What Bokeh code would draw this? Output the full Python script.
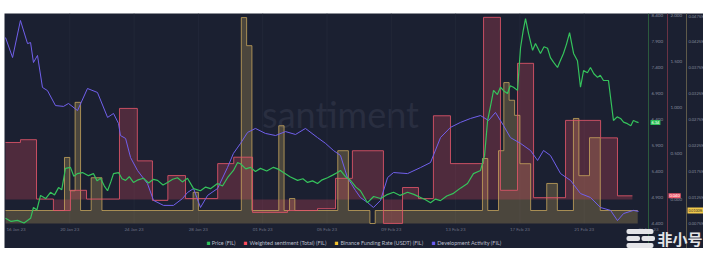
from bokeh.plotting import figure
from bokeh.models import (Range1d, LinearAxis, FixedTicker, Label, Legend, LegendItem,
                          NumeralTickFormatter)
from bokeh.embed import file_html
from bokeh.resources import INLINE

# ---------------- data (days from 16 Jan 2023) ----------------
tick_days = [4, 8, 12, 16, 20, 24, 28, 32, 36, 40]
tick_labels = ["20 Jan 23", "24 Jan 23", "28 Jan 23", "01 Feb 23", "05 Feb 23",
               "09 Feb 23", "13 Feb 23", "17 Feb 23", "21 Feb 23", "25 Feb 23"]
first_label = "16 Jan 23"

price_days = [0.00, 0.35, 0.75, 1.15, 1.56, 1.74, 1.95, 2.18, 2.50, 2.80, 3.05, 3.30, 3.50, 3.73,
              4.04, 4.25, 4.48, 4.79, 5.16, 5.47, 5.70, 5.91, 6.15, 6.35, 6.55, 6.72, 7.03, 7.25,
              7.47, 7.70, 7.96, 8.25, 8.58, 8.90, 9.20, 9.46, 9.80, 10.08, 10.40, 10.70, 11.00,
              11.32, 11.70, 12.13, 12.45, 12.75, 13.19, 13.50, 13.81, 14.18, 14.43, 14.62, 14.95,
              15.24, 15.55, 15.86, 16.25, 16.67, 17.00, 17.29, 17.70, 18.17, 18.50, 18.79, 19.10,
              19.41, 19.70, 20.03, 20.35, 20.65, 20.84, 21.15, 21.46, 21.80, 22.08, 22.52, 22.90,
              23.33, 23.70, 24.14, 24.55, 25.01, 25.40, 25.82, 26.10, 26.44, 26.75, 27.06, 27.45,
              27.87, 28.30, 28.74, 29.11, 29.55, 29.80, 29.99, 30.20, 30.36, 30.60, 30.79, 31.00,
              31.23, 31.40, 31.60, 31.85, 32.04, 32.20, 32.35, 32.54, 32.79, 32.97, 33.28, 33.50,
              33.72, 33.90, 34.10, 34.34, 34.50, 34.71, 34.90, 35.09, 35.34, 35.58, 35.77, 35.96,
              36.20, 36.39, 36.60, 36.83, 37.00, 37.20, 37.51, 37.65, 37.82, 38.05, 38.26, 38.45,
              38.69, 38.90, 39.06, 39.20, 39.38]
price_usd = [4.50, 4.44, 4.46, 4.41, 4.50, 4.71, 4.66, 4.94, 4.88, 5.00, 4.95, 5.09, 5.05, 5.46,
             5.48, 5.31, 5.36, 5.38, 5.32, 5.36, 5.22, 5.27, 5.12, 5.03, 5.20, 5.36, 5.38, 5.26,
             5.23, 5.30, 5.19, 5.24, 5.27, 5.18, 5.25, 5.23, 5.14, 5.19, 5.25, 5.28, 5.20,
             5.27, 5.07, 5.03, 5.10, 5.07, 5.17, 5.12, 5.28, 5.42, 5.57, 5.55, 5.45,
             5.48, 5.40, 5.46, 5.41, 5.48, 5.44, 5.38, 5.30, 5.23, 5.26, 5.19, 5.22,
             5.17, 5.24, 5.28, 5.33, 5.38, 5.42, 5.30, 5.23, 5.10, 5.03, 4.80, 4.92,
             4.88, 4.95, 5.00, 4.94, 5.00, 4.96, 4.90, 4.86, 4.80, 4.87, 4.84, 4.93,
             4.98, 5.08, 5.17, 5.36, 5.42, 5.70, 6.38, 6.70, 6.96, 6.88, 7.02, 6.95,
             6.90, 7.05, 7.02, 6.96, 7.78, 8.10, 8.34, 8.05, 7.73, 7.86, 7.67, 7.80,
             7.77, 7.59, 7.50, 7.40, 7.52, 7.67, 7.85, 8.07, 7.67, 7.53, 7.02, 7.34,
             7.30, 7.40, 7.28, 7.21, 7.25, 7.15, 7.15, 6.80, 6.38, 6.45, 6.42, 6.35,
             6.32, 6.28, 6.38, 6.36, 6.34]

dev_days = [0.00, 0.44, 0.93, 1.37, 1.56, 1.74, 1.99, 2.30, 2.61, 3.11, 3.61, 3.92, 4.48, 5.10,
            5.72, 6.35, 6.72, 7.03, 7.15, 7.47, 7.78, 8.21, 8.83, 9.21, 9.83, 10.45, 11.01, 11.32,
            11.70, 12.13, 12.57, 13.19, 13.81, 14.18, 14.62, 15.06, 15.55, 16.17, 16.80, 17.42,
            18.04, 18.66, 19.41, 19.91, 20.40, 20.84, 21.27, 21.77, 22.08, 22.52, 22.89, 23.33,
            23.77, 24.14, 25.01, 25.82, 26.44, 27.06, 27.68, 28.30, 28.93, 29.55, 30.05, 30.48,
            30.98, 31.41, 32.04, 32.66, 33.10, 33.47, 33.90, 34.53, 35.15, 35.77, 36.39, 37.01,
            37.64, 38.07, 38.45, 39.06, 39.38]
dev_activity = [89.4, 79.8, 97.6, 86.5, 87.0, 77.4, 80.8, 65.4, 63.9, 56.7, 56.3, 57.7, 54.3, 64.9,
                63.0, 51.0, 52.9, 48.1, 42.3, 40.9, 31.7, 25.5, 19.2, 11.1, 8.7, 8.7, 12.0, 14.9,
                16.8, 7.7, 13.5, 16.8, 26.9, 33.7, 38.5, 43.8, 45.7, 43.3, 42.3, 44.2,
                42.8, 45.7, 41.3, 38.5, 35.1, 32.7, 22.1, 15.9, 12.5, 10.1, 7.7, 11.1,
                22.1, 24.5, 24.0, 26.9, 29.3, 41.3, 46.2, 48.6, 50.5, 51.9, 49.5, 53.4,
                47.1, 41.3, 38.5, 35.1, 30.3, 35.1, 32.7, 24.0, 20.7, 14.4, 12.5, 7.7,
                6.3, 1.4, 4.8, 6.3, 5.8]

sent_start = [0.00, 0.93, 1.93, 2.98, 4.04, 5.04, 7.09, 8.20, 9.14, 10.10, 11.20, 13.20, 14.20,
              15.37, 17.54, 19.41, 20.53, 21.58, 23.51, 24.70, 25.69, 26.62, 27.68, 29.74,
              30.79, 31.85, 32.85, 34.84, 37.02, 38.07]
sent_value = [0.62, 0.65, 0.005, -0.12, 0.10, 0.005, 0.99, 0.42, -0.01, 0.26, 0.01, 0.39, 0.46,
              -0.14, -0.12, -0.10, 0.23, 0.53, -0.26, 0.13, 0.01, 0.91, 0.39, 1.98,
              0.10, 1.48, 0.02, 0.86, 0.67, 0.04]
sent_end = 39.0

fund_start = [0.00, 3.67, 4.00, 4.33, 4.67, 5.33, 6.00, 11.67, 12.00, 14.67, 15.00, 15.33, 17.00,
              17.33, 17.67, 18.00, 20.67, 21.33, 22.67, 23.00, 29.67, 30.00, 30.67, 31.00, 31.33,
              31.67, 32.00, 32.67, 33.67, 34.33, 35.33, 35.67, 36.33, 37.00]
fund_pct = [0.0100, 0.0202, 0.0138, 0.0308, 0.0100, 0.0163, 0.0100, 0.0135, 0.0100, 0.0471,
            0.0417, 0.0100, 0.0263, 0.0100, 0.0123, 0.0100, 0.0215, 0.0100, 0.0075, 0.0100,
            0.0200, 0.0100, 0.0215, 0.0346, 0.0312, 0.0283, 0.0190, 0.0100, 0.0152, 0.0100,
            0.0277, 0.0167, 0.0240, 0.0100]
fund_end = 39.33

price_ticks = [4.4, 4.9, 5.4, 5.9, 6.4, 6.9, 7.4, 7.9, 8.4]
sent_ticks = [0.0, 0.5, 1.0, 1.5, 2.0]
fund_ticks_pct = [0.0075, 0.0125, 0.0175, 0.0225, 0.0275, 0.0325, 0.0375, 0.0425, 0.0475]

legend_names = ["Price (FIL)", "Weighted sentiment (Total) (FIL)",
                "Binance Funding Rate (USDT) (FIL)", "Development Activity (FIL)"]

# ---------------- layout (page pixels) ----------------
PANEL_L, PANEL_T, PANEL_R, PANEL_B = 4, 13, 703, 248
DATA_L, DATA_R, DATA_B = 5, 648, 223
AX2, AX3 = 667, 686
W, H = PANEL_R - PANEL_L, PANEL_B - PANEL_T

BG = "#1b2031"
GREEN = "#35c35c"
RED = "#e0566a"
YEL = "#cfac5f"
PURP = "#7160ec"
TICK = "#848a9b"
FONT = "Lato"

px_day = (DATA_R - DATA_L) / 40.0
x_lo = -(DATA_L - PANEL_L) / px_day
x_hi = 40 + (PANEL_R - DATA_R) / px_day


def day_at(px):
    return (px - DATA_L) / px_day


# vertical scales: (value at DATA_B, px per unit)
P0, PPX = 4.4, 52.0
S0_Y, SPX = 199, 92.0
F0, FPX = 0.0075 / 100, 26 / 0.00005
D0, DPX = 0.0, 2.08


def price_at(py):
    return P0 + (DATA_B - py) / PPX


def step_path(starts, vals, end):
    bounds = list(starts) + [end]
    xs, ys = [], []
    for i, v in enumerate(vals):
        xs += [bounds[i], bounds[i + 1]]
        ys += [v, v]
    return xs, ys


p = figure(frame_width=W, frame_height=H,
           x_range=Range1d(x_lo, x_hi),
           y_range=Range1d(price_at(PANEL_B), price_at(PANEL_T)),
           output_backend="svg", toolbar_location=None,
           x_axis_location=None, y_axis_location=None,
           background_fill_color=BG, border_fill_color=BG, outline_line_color=None,
           min_border_left=0, min_border_top=0, min_border_right=0, min_border_bottom=0)
p.margin = (PANEL_T, 718 - PANEL_R, 259 - PANEL_B, PANEL_L)

p.extra_y_ranges = {
    "sent": Range1d((S0_Y - PANEL_B) / SPX, (S0_Y - PANEL_T) / SPX),
    "fund": Range1d(F0 - (PANEL_B - DATA_B) / FPX, F0 + (DATA_B - PANEL_T) / FPX),
    "dev": Range1d(D0 - (PANEL_B - DATA_B) / DPX, D0 + (DATA_B - PANEL_T) / DPX),
}

p.grid.visible = False

# faint vertical grid at the date ticks
for d in tick_days[:-1]:
    p.segment(x0=d, x1=d, y0=price_at(DATA_B), y1=price_at(PANEL_T),
              line_color="#222738", line_width=1)

# santiment watermark
p.add_layout(Label(x=336, x_units="screen", y=price_at(113), text="santiment",
                   text_font_size="36px", text_color="#292e40", text_font=FONT,
                   text_align="center", text_baseline="middle", level="underlay"))

# fills
fx, fy = step_path(fund_start, [v / 100 for v in fund_pct], fund_end)
p.varea(x=fx, y1=F0, y2=fy, fill_color=YEL, fill_alpha=0.27, y_range_name="fund")
sx, sy = step_path(sent_start, sent_value, sent_end)
p.varea(x=sx, y1=0, y2=sy, fill_color="#d8475e", fill_alpha=0.28, y_range_name="sent")
# lines
p.line(fx, fy, line_color=YEL, line_width=1, line_alpha=0.75, y_range_name="fund")
p.line(sx, sy, line_color=RED, line_width=1, line_alpha=0.85, y_range_name="sent")
p.line(dev_days, dev_activity, line_color=PURP, line_width=1.0, y_range_name="dev")
p.line(price_days, price_usd, line_color=GREEN, line_width=1.2)


def style_axis(ax, size="4.5px"):
    ax.major_tick_line_color = None
    ax.minor_tick_line_color = None
    ax.major_tick_out = 0
    ax.major_tick_in = 0
    ax.minor_tick_out = 0
    ax.minor_tick_in = 0
    ax.major_label_text_font_size = size
    ax.major_label_text_color = TICK
    ax.major_label_text_font = FONT


# x axis (date ticks) along the bottom of the data area
xa = LinearAxis(fixed_location=price_at(DATA_B), ticker=FixedTicker(ticks=tick_days),
                major_label_overrides={d: t for d, t in zip(tick_days, tick_labels)})
style_axis(xa)
xa.axis_line_color = None
xa.major_label_text_color = "#6c7183"
xa.major_label_standoff = 3
p.add_layout(xa, "below")
p.add_layout(Label(x=0, y=price_at(DATA_B), text=first_label, x_offset=1, y_offset=-3,
                   text_font_size="4.5px", text_color="#6c7183", text_font=FONT,
                   text_baseline="top", text_align="left"))

# three value axes on the right
pa = LinearAxis(fixed_location=day_at(DATA_R), ticker=FixedTicker(ticks=price_ticks),
                formatter=NumeralTickFormatter(format="0.000"))
style_axis(pa)
pa.axis_line_color = "#2c5a3d"
pa.major_label_standoff = 3
p.add_layout(pa, "right")

sa = LinearAxis(fixed_location=day_at(AX2), y_range_name="sent",
                ticker=FixedTicker(ticks=sent_ticks),
                formatter=NumeralTickFormatter(format="0.000"))
style_axis(sa)
sa.axis_line_color = "#6a3344"
sa.major_label_standoff = 3
p.add_layout(sa, "right")

fa = LinearAxis(fixed_location=day_at(AX3), y_range_name="fund",
                ticker=FixedTicker(ticks=[v / 100 for v in fund_ticks_pct]),
                formatter=NumeralTickFormatter(format="0.0000%"))
style_axis(fa, "4px")
fa.axis_line_color = "#5f5a4a"
fa.major_label_standoff = 2
p.add_layout(fa, "right")

# last-value markers on the axes
p.add_layout(Label(x=650 - PANEL_L, x_units="screen", y=price_usd[-1],
                   text="%.2f" % price_usd[-1], text_font_size="4px", text_color="white",
                   text_font=FONT, text_baseline="middle", background_fill_color="#2cbf57",
                   padding=1))
p.add_layout(Label(x=668 - PANEL_L, x_units="screen", y=sent_value[-1], y_range_name="sent",
                   text="%.3f" % sent_value[-1], text_font_size="4px", text_color="white",
                   text_font=FONT, text_baseline="middle", background_fill_color="#ef5a6d",
                   padding=1))
p.add_layout(Label(x=687 - PANEL_L, x_units="screen", y=fund_pct[-1] / 100,
                   y_range_name="fund", text="%.4f%%" % fund_pct[-1], text_font_size="3.5px",
                   text_color="#222", text_font=FONT, text_baseline="middle",
                   background_fill_color="#f2c94c", padding=1))

# legend (square swatches; each swatch renderer holds one zero-size box)
legend_colors = ["#2fc25b", "#ff4d5e", "#f4c430", "#6b5cf0"]
items = []
for name, c in zip(legend_names, legend_colors):
    r = p.quad(left=[x_lo], right=[x_lo], top=[price_at(PANEL_B)], bottom=[price_at(PANEL_B)],
               fill_color=c, line_color=c, line_width=0.5)
    items.append(LegendItem(label=name, renderers=[r], index=0))
legend = Legend(items=items, orientation="horizontal", location="bottom_center",
                label_text_font_size="5.5px", label_text_color="#b9bdca", label_text_font=FONT,
                glyph_width=4, glyph_height=4, label_height=6, label_standoff=2, spacing=8,
                padding=2, margin=2, background_fill_alpha=0, border_line_color=None)
p.add_layout(legend)

# 非小号 watermark logo
for bx, by, n in [(626, 231, 6), (626, 238, 3), (641, 238, 3), (626, 245, 6)]:
    p.add_layout(Label(x=bx - PANEL_L, x_units="screen", y=price_at(by),
                       text="\u2003" * n, text_font_size="4.5px", text_baseline="middle",
                       background_fill_color="#e4e4e8", border_radius=2, padding=0))
p.add_layout(Label(x=657 - PANEL_L, x_units="screen", y=price_at(238), text="非小号",
                   text_font_size="15px", text_color="#e4e4e8", text_font="Noto Sans CJK SC",
                   text_font_style="bold", text_baseline="middle"))

open("out.html", "w").write(file_html(p, INLINE))
